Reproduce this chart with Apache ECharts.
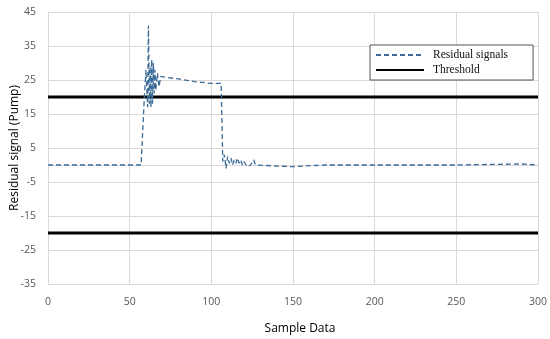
<!DOCTYPE html>
<html><head><meta charset="utf-8">
<script src="https://cdn.jsdelivr.net/npm/echarts@6/dist/echarts.min.js"></script>
<style>html,body{margin:0;padding:0;background:#fff}#c{width:550px;height:339px}</style>
</head><body><div id="c"></div>
<script>
const sampleX = [0, 57, 58, 59, 60, 61, 61.5, 62, 62.5, 63, 63.5, 64, 64.5, 65, 65.5, 66, 67, 68, 69, 70, 80, 90, 100, 106, 107, 108, 109, 110, 111, 112, 113, 114, 115, 116, 117, 118, 119, 120, 122, 124, 126, 127, 140, 150, 160, 170, 200, 250, 290, 300];
const residual = [0, 0, 0.2, 20, 28, 17, 41, 18, 29, 17, 31, 18, 30, 21, 28, 22, 27, 23, 26, 25.5, 25.3, 24.5, 24, 24, 1, 3, -1, 2.5, 0.5, 2, 0, 1.5, 0.5, 2, 0.5, 1.5, 0, 1, -0.5, 0, 1.5, 0, -0.3, -0.5, -0.2, 0, 0, 0, 0.3, 0];
const thresholdX = [0, 300];
const thresholdUpper = [20, 20];
const thresholdLower = [-20, -20];
const xTicks = [0, 50, 100, 150, 200, 250, 300];
const yTicks = [-35, -25, -15, -5, 5, 15, 25, 35, 45];

const chart = echarts.init(document.getElementById('c'));
const zip = (xs, ys) => xs.map((x, i) => [x, ys[i]]);
chart.setOption({
  animation: false,
  grid: {left: 48, right: 12, top: 12, bottom: 55, outerBoundsMode: 'none', containLabel: false},
  legend: {
    left: 370, top: 45, orient: 'vertical', itemGap: 3,
    itemWidth: 48, itemHeight: 12,
    borderColor: '#555', borderWidth: 1, padding: [4, 25, 4, 5],
    backgroundColor: '#fff',
    itemStyle: {opacity: 0},
    textStyle: {fontFamily: 'Liberation Serif', fontSize: 11.5, color: '#111', padding: [0, 0, 0, 4]},
    data: ['Residual signals', 'Threshold']
  },
  xAxis: {
    type: 'value', min: 0, max: 300, interval: 50,
    name: 'Sample Data', nameLocation: 'middle', nameGap: 39, nameMoveOverlap: false,
    nameTextStyle: {fontFamily: 'Open Sans', fontSize: 12, color: '#000', padding: [0, 0, 0, 14]},
    axisLine: {show: true, lineStyle: {color: '#d9d9d9'}},
    axisTick: {show: false},
    axisLabel: {fontFamily: 'Open Sans', fontSize: 10.5, color: '#595959', margin: 13,
      formatter: v => xTicks.includes(v) ? String(v) : ''},
    splitLine: {show: true, lineStyle: {color: '#d9d9d9'}}
  },
  yAxis: {
    type: 'value', min: -35, max: 45, interval: 10,
    name: 'Residual signal (Pump)', nameLocation: 'middle', nameGap: 27, nameMoveOverlap: false,
    nameTextStyle: {fontFamily: 'Open Sans', fontSize: 12, color: '#000'},
    axisLine: {show: false}, axisTick: {show: false},
    axisLabel: {fontFamily: 'Open Sans', fontSize: 10.5, color: '#595959', margin: 12,
      formatter: v => yTicks.includes(v) ? String(v) : ''},
    splitLine: {show: true, lineStyle: {color: '#d9d9d9'}}
  },
  series: [
    {name: 'Residual signals', type: 'line', symbol: 'none', data: zip(sampleX, residual),
     lineStyle: {color: '#3a6a98', width: 1.3, type: [5, 3]}, itemStyle: {color: '#3a6a98'}, z: 3},
    {name: 'Threshold', type: 'line', symbol: 'none', data: zip(thresholdX, thresholdUpper),
     lineStyle: {color: '#000', width: 3}, itemStyle: {color: '#000'}, z: 2},
    {name: 'Threshold', type: 'line', symbol: 'none', data: zip(thresholdX, thresholdLower),
     lineStyle: {color: '#000', width: 3}, itemStyle: {color: '#000'}, z: 2}
  ]
});
</script></body></html>
